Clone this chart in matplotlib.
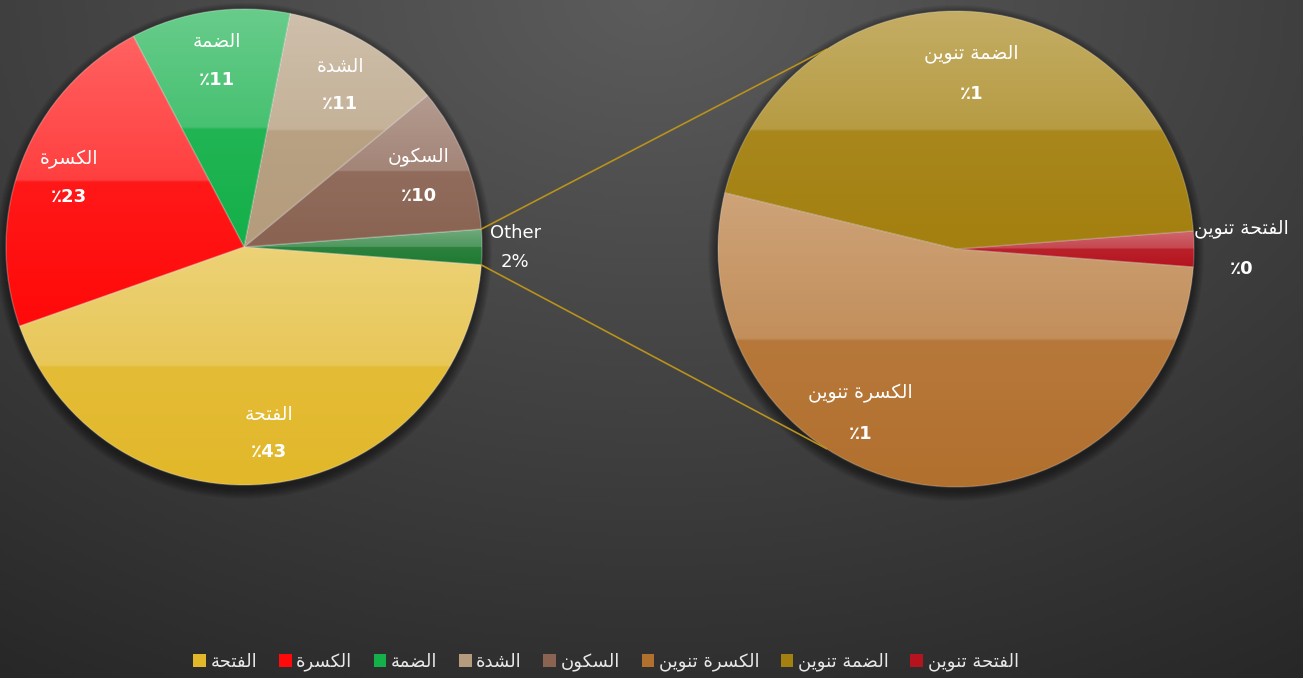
import matplotlib
matplotlib.use("Agg")
import matplotlib.pyplot as plt
import numpy as np
from matplotlib.patches import Circle, Patch
from matplotlib.lines import Line2D

# main pie, counterclockwise from the "Other" slice
main_cats = ['Other', 'السكون', 'الشدة', 'الضمة', 'الكسرة', 'الفتحة']
main_vals = [2.4, 9.8, 10.9, 10.8, 22.7, 43.4]
main_colors = ['#1f7a32', '#8a6352', '#b49c7c', '#14b04a', '#ff0a0a', '#e2b82a']

# secondary pie (breakdown of "Other")
sub_cats = ['الفتحة تنوين', 'الضمة تنوين', 'الكسرة تنوين']
sub_vals = [0.058, 1.08, 1.262]
sub_colors = ['#b5141e', '#a3800f', '#b2702e']

legend_order = ['الفتحة', 'الكسرة', 'الضمة', 'الشدة', 'السكون',
                'الكسرة تنوين', 'الضمة تنوين', 'الفتحة تنوين']

# --- tiny arabic shaper (presentation forms + reversal), no external libs
FORMS = {
    'ا': ('\uFE8D', '\uFE8E', None, None),
    'ة': ('\uFE93', '\uFE94', None, None),
    'ت': ('\uFE95', '\uFE96', '\uFE97', '\uFE98'),
    'ح': ('\uFEA1', '\uFEA2', '\uFEA3', '\uFEA4'),
    'د': ('\uFEA9', '\uFEAA', None, None),
    'ر': ('\uFEAD', '\uFEAE', None, None),
    'س': ('\uFEB1', '\uFEB2', '\uFEB3', '\uFEB4'),
    'ش': ('\uFEB5', '\uFEB6', '\uFEB7', '\uFEB8'),
    'ض': ('\uFEBD', '\uFEBE', '\uFEBF', '\uFEC0'),
    'ف': ('\uFED1', '\uFED2', '\uFED3', '\uFED4'),
    'ك': ('\uFED9', '\uFEDA', '\uFEDB', '\uFEDC'),
    'ل': ('\uFEDD', '\uFEDE', '\uFEDF', '\uFEE0'),
    'م': ('\uFEE1', '\uFEE2', '\uFEE3', '\uFEE4'),
    'ن': ('\uFEE5', '\uFEE6', '\uFEE7', '\uFEE8'),
    'و': ('\uFEED', '\uFEEE', None, None),
    'ي': ('\uFEF1', '\uFEF2', '\uFEF3', '\uFEF4'),
}


def shape(s):
    if not any(c in FORMS for c in s):
        return s
    out = []
    for i, c in enumerate(s):
        if c not in FORMS:
            out.append(c)
            continue
        iso, fin, ini, med = FORMS[c]
        prev = s[i - 1] if i > 0 else None
        nxt = s[i + 1] if i + 1 < len(s) else None
        jp = prev in FORMS and FORMS[prev][2] is not None
        jn = nxt in FORMS and ini is not None
        if jp and jn:
            out.append(med)
        elif jp:
            out.append(fin)
        elif jn:
            out.append(ini)
        else:
            out.append(iso)
    return ''.join(reversed(out))


def pct(v):
    return '\u066A' + '%d' % round(v)


plt.rcParams['font.family'] = ['DejaVu Sans']

W, H = 1303, 678
fig = plt.figure(figsize=(W / 100, H / 100), dpi=100)

# background gradient
bg = fig.add_axes([0, 0, 1, 1], zorder=-5)
yy, xx = np.mgrid[0:1:200j, 0:1:400j]
d = np.sqrt(((xx - 0.5) / 0.85) ** 2 + ((yy - 1.0) / 1.1) ** 2)
g = np.clip(0.36 - 0.19 * d, 0.15, 0.36)
bg.imshow(np.dstack([g, g, g]), extent=(0, 1, 0, 1), origin='lower', aspect='auto')
bg.axis('off')

ax = fig.add_axes([0, 0, 1, 1])
R = 238
c1 = (244, H - 247)
c2 = (956, H - 249)

# soft shadows under both pies
for c in (c1, c2):
    for k in range(10):
        ax.add_patch(Circle((c[0], c[1] - 4), R + 1 + k, color='black',
                            alpha=0.05, lw=0, zorder=0))


def gloss(ax, wedges):
    for w in wedges:
        ext = w.get_path().get_extents()
        n = 100
        alpha = np.zeros((n, 1))
        half = n // 2
        alpha[half:, 0] = np.linspace(0.22, 0.36, n - half)
        alpha[:half, 0] = np.linspace(0.0, 0.06, half)
        img = np.dstack([np.ones((n, 1)), np.ones((n, 1)), np.ones((n, 1)), alpha])
        im = ax.imshow(img, extent=(ext.x0, ext.x1, ext.y0, ext.y1), origin='lower',
                       aspect='auto', zorder=2, interpolation='bilinear')
        im.set_clip_path(w)


start1 = -main_vals[0] / sum(main_vals) * 360 / 2
w1, _ = ax.pie(main_vals, colors=main_colors, center=c1, radius=R, startangle=start1,
               counterclock=True, frame=True,
               wedgeprops=dict(edgecolor=(1, 1, 1, 0.25), linewidth=1))
gloss(ax, w1)

start2 = -sub_vals[0] / sum(sub_vals) * 360 / 2
w2, _ = ax.pie(sub_vals, colors=sub_colors, center=c2, radius=R, startangle=start2,
               counterclock=True, frame=True,
               wedgeprops=dict(edgecolor=(1, 1, 1, 0.2), linewidth=1))
gloss(ax, w2)


def polar(c, ang, r):
    a = np.deg2rad(ang)
    return c[0] + r * np.cos(a), c[1] + r * np.sin(a)


gap = 19
# labels of the main pie
for w, cat, v in zip(w1, main_cats, main_vals):
    mid = (w.theta1 + w.theta2) / 2
    if cat == 'Other':
        x, y = polar(c1, mid, 1.14 * R)
        ax.text(x, y + 14, 'Other', color='white', fontsize=13, ha='center', va='center', zorder=5)
        ax.text(x, y - 15, '%d%%' % round(v), color='white', fontsize=13, ha='center', va='center', zorder=5)
        continue
    x, y = polar(c1, mid, 0.79 * R)
    ax.text(x, y + gap, shape(cat), color='white', fontsize=13.5, ha='center', va='center', zorder=5)
    ax.text(x, y - gap, pct(v), color='white', fontsize=13, fontweight='bold',
            ha='center', va='center', zorder=5)

# labels of the secondary pie
sub_pos = {'الفتحة تنوين': (0, 1.2), 'الضمة تنوين': (85, 0.74), 'الكسرة تنوين': (240, 0.8)}
for cat, v in zip(sub_cats, sub_vals):
    ang, rr = sub_pos[cat]
    x, y = polar(c2, ang, rr * R)
    ax.text(x, y + 20, shape(cat), color='white', fontsize=13.5, ha='center', va='center', zorder=5)
    ax.text(x, y - 20, pct(v), color='white', fontsize=13, fontweight='bold',
            ha='center', va='center', zorder=5)

# connector lines
other = w1[0]
for t1, t2 in ((other.theta2, 123), (other.theta1, 237)):
    p1 = polar(c1, t1, R)
    p2 = polar(c2, t2, R)
    ax.add_line(Line2D([p1[0], p2[0]], [p1[1], p2[1]], color='#b8921c', lw=1.2, zorder=1))

ax.set_xlim(0, W)
ax.set_ylim(0, H)
ax.set_aspect('auto')
ax.axis('off')

all_cols = dict(zip(main_cats, main_colors))
all_cols.update(zip(sub_cats, sub_colors))
handles = [Patch(facecolor=all_cols[c], edgecolor='none') for c in legend_order]
fig.legend(handles, [shape(c) for c in legend_order], loc='center', ncol=8,
           bbox_to_anchor=(606 / W, 1 - 662 / H), frameon=False, fontsize=13,
           labelcolor='#e8e8e8', handlelength=0.7, handleheight=0.7,
           handletextpad=0.25, columnspacing=1.2)

fig.savefig('out.png', dpi=100, facecolor='#3a3a3a')
